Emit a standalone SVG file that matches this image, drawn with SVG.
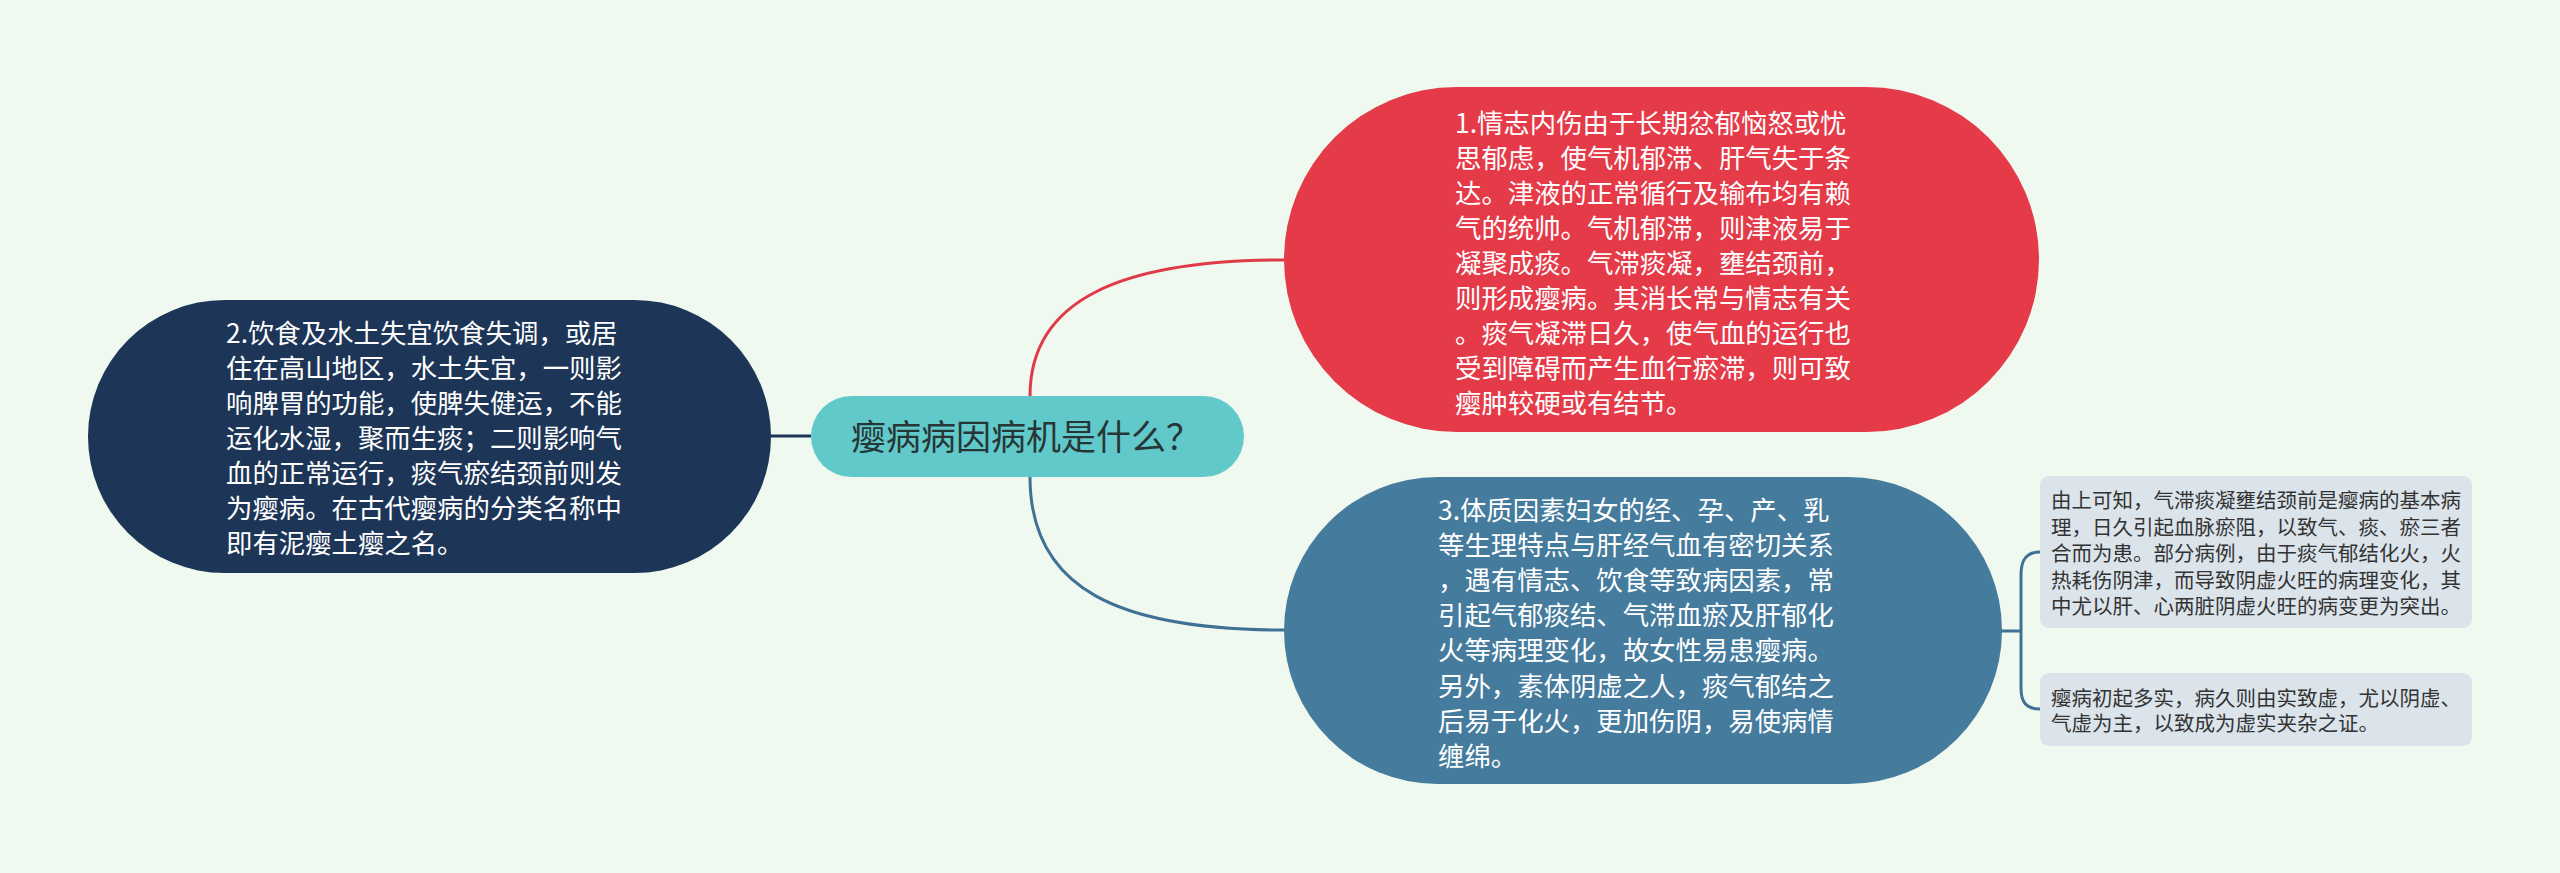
<svg xmlns="http://www.w3.org/2000/svg" width="2560" height="873" viewBox="0 0 2560 873">
<style>
.t{font-family:"Noto Sans CJK SC","Liberation Sans",sans-serif}
.big{font-size:26.4px;fill:#ffffff}
.small{font-size:20.5px;fill:#333333}
.conn{fill:none;stroke-width:3}
</style>
<rect x="0" y="0" width="2560" height="873" fill="#f0f9ef"/>
<g id="connectors">
<path class="conn" stroke="#1d3557" d="M771,436 L811,436"/>
<path class="conn" stroke="#e03a48" d="M1030,396 C1030,300 1120,260 1285,260"/>
<path class="conn" stroke="#3f7196" d="M1030,477 C1030,590 1120,630 1285,630"/>
<path class="conn" stroke="#3f7196" d="M2001,631 L2021,631 M2040,552 C2026,552 2021,560 2021,575 L2021,688 C2021,702 2026,709 2040,709"/>
</g>
<g id="center">
<rect x="811" y="396" width="433" height="81" rx="40.5" fill="#62c9cb"/>
<text class="t" x="851" y="450" font-size="35" fill="#263636">瘿病病因病机是什么？</text>
</g>
<g id="node1">
<rect x="1284" y="87" width="755" height="345" rx="172.5" fill="#e53a48"/>
<text class="t big">
<tspan x="1455" y="132.6">1.情志内伤由于长期忿郁恼怒或忧</tspan>
<tspan x="1455" y="167.7">思郁虑，使气机郁滞、肝气失于条</tspan>
<tspan x="1455" y="202.8">达。津液的正常循行及输布均有赖</tspan>
<tspan x="1455" y="237.9">气的统帅。气机郁滞，则津液易于</tspan>
<tspan x="1455" y="273">凝聚成痰。气滞痰凝，壅结颈前，</tspan>
<tspan x="1455" y="308.1">则形成瘿病。其消长常与情志有关</tspan>
<tspan x="1455" y="343.2">。痰气凝滞日久，使气血的运行也</tspan>
<tspan x="1455" y="378.3">受到障碍而产生血行瘀滞，则可致</tspan>
<tspan x="1455" y="413.4">瘿肿较硬或有结节。</tspan>
</text>
</g>
<g id="node2">
<rect x="88" y="300" width="683" height="273" rx="136.5" fill="#1d3557"/>
<text class="t big">
<tspan x="226" y="343">2.饮食及水土失宜饮食失调，或居</tspan>
<tspan x="226" y="378">住在高山地区，水土失宜，一则影</tspan>
<tspan x="226" y="413">响脾胃的功能，使脾失健运，不能</tspan>
<tspan x="226" y="448">运化水湿，聚而生痰；二则影响气</tspan>
<tspan x="226" y="483">血的正常运行，痰气瘀结颈前则发</tspan>
<tspan x="226" y="518">为瘿病。在古代瘿病的分类名称中</tspan>
<tspan x="226" y="553">即有泥瘿土瘿之名。</tspan>
</text>
</g>
<g id="node3">
<rect x="1284" y="477" width="718" height="307" rx="153.5" fill="#457b9d"/>
<text class="t big">
<tspan x="1438" y="519.5">3.体质因素妇女的经、孕、产、乳</tspan>
<tspan x="1438" y="554.7">等生理特点与肝经气血有密切关系</tspan>
<tspan x="1438" y="589.9">，遇有情志、饮食等致病因素，常</tspan>
<tspan x="1438" y="625.1">引起气郁痰结、气滞血瘀及肝郁化</tspan>
<tspan x="1438" y="660.3">火等病理变化，故女性易患瘿病。</tspan>
<tspan x="1438" y="695.5">另外，素体阴虚之人，痰气郁结之</tspan>
<tspan x="1438" y="730.7">后易于化火，更加伤阴，易使病情</tspan>
<tspan x="1438" y="765.9">缠绵。</tspan>
</text>
</g>
<g id="node3a">
<rect x="2040" y="476" width="432" height="152" rx="9" fill="#dbe4eb"/>
<text class="t small">
<tspan x="2051" y="508">由上可知，气滞痰凝壅结颈前是瘿病的基本病</tspan>
<tspan x="2051" y="534.5">理，日久引起血脉瘀阻，以致气、痰、瘀三者</tspan>
<tspan x="2051" y="561">合而为患。部分病例，由于痰气郁结化火，火</tspan>
<tspan x="2051" y="587.5">热耗伤阴津，而导致阴虚火旺的病理变化，其</tspan>
<tspan x="2051" y="614">中尤以肝、心两脏阴虚火旺的病变更为突出。</tspan>
</text>
</g>
<g id="node3b">
<rect x="2040" y="673" width="432" height="73" rx="9" fill="#dbe4eb"/>
<text class="t small">
<tspan x="2051" y="706">瘿病初起多实，病久则由实致虚，尤以阴虚、</tspan>
<tspan x="2051" y="731">气虚为主，以致成为虚实夹杂之证。</tspan>
</text>
</g>
</svg>
